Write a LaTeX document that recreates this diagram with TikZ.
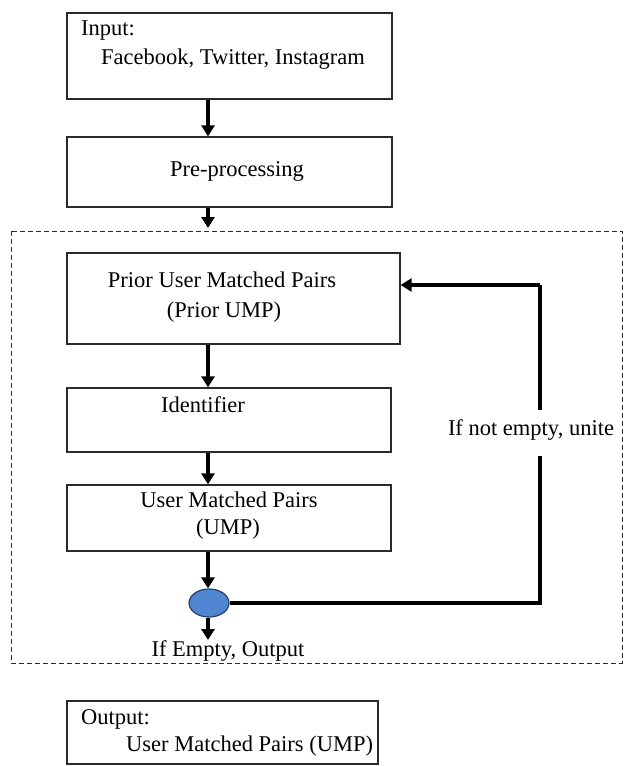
\documentclass[tikz,border=0pt]{standalone}
\usepackage{fontspec}
\setmainfont{Liberation Serif}
\usetikzlibrary{arrows.meta,shapes.geometric}
\definecolor{bordc}{HTML}{2A2A2A}
\definecolor{circfill}{HTML}{4F86CF}
\definecolor{circline}{HTML}{24406A}
\tikzset{
  box/.style={draw=bordc, line width=1.3pt, fill=white, inner sep=0pt},
  txt/.style={font=\fontsize{22.5}{26}\selectfont, inner sep=0pt, text height=0.68em, text depth=0.2em},
  flow/.style={line width=3.8pt, -{Triangle[length=11pt,width=13pt]}},
  fb/.style={line width=3.8pt},
  dbox/.style={draw=bordc, line width=1pt, dash pattern=on 5pt off 3pt},
}
\begin{document}
\begin{tikzpicture}[x=1pt,y=-1pt]
\useasboundingbox (0,0) rectangle (627,766);
% dashed loop region
\draw[dbox] (11,231) rectangle (622,663);
% boxes
\node[box, minimum width=325pt, minimum height=86pt] (inp) at (229.5,56) {};
\node[txt, anchor=west] (inpA) at (81,33) {Input:};
\node[txt, anchor=west] (inpB) at (101,62) {Facebook, Twitter, Instagram};
\node[box, minimum width=325pt, minimum height=70pt] (pre) at (229.5,172) {};
\node[txt] (preT) at (237,174) {Pre-processing};
\node[box, minimum width=333pt, minimum height=91pt] (pri) at (233.5,298.5) {};
\node[txt] (priA) at (222,285) {Prior User Matched Pairs};
\node[txt] (priB) at (224,315) {(Prior UMP)};
\node[box, minimum width=324pt, minimum height=64pt] (idf) at (229,420) {};
\node[txt] (idfT) at (203,410) {Identifier};
\node[box, minimum width=324pt, minimum height=66pt] (ump) at (229,518) {};
\node[txt] (umpA) at (229,505) {User Matched Pairs};
\node[txt] (umpB) at (228,532) {(UMP)};
\node[ellipse, draw=circline, line width=1.2pt, fill=circfill, minimum width=40pt, minimum height=28pt, inner sep=0pt] (dec) at (209,603) {};
\node[txt] (empT) at (228,654) {If Empty, Output};
\node[box, minimum width=311pt, minimum height=63pt] (out) at (222.5,732.5) {};
\node[txt, anchor=west] (outA) at (81,722) {Output:};
\node[txt, anchor=west] (outB) at (126,749) {User Matched Pairs (UMP)};
% connectors
\coordinate (c1) at (208,99);
\coordinate (c2) at (208,207);
\coordinate (c3) at (208,228);
\coordinate (c4) at (208,640);
\coordinate (fbR) at (540,603);
\coordinate (fbT) at (540,285);
\draw[flow] (inp.south -| c1) -- (pre.north -| c1);
\draw[flow] (pre.south -| c2) -- (c3);
\draw[flow] (pri.south -| c1) -- (idf.north -| c1);
\draw[flow] (idf.south -| c1) -- (ump.north -| c1);
\draw[flow] (ump.south -| c1) -- (dec.north -| c1);
\draw[flow] (dec.south -| c1) -- (c4);
\draw[fb] (dec.east) -- (fbR) -- (fbT);
\draw[flow] (fbT) -- (pri.east |- fbT);
\node[txt, fill=white, inner sep=0pt, minimum height=46pt] (unT) at (531,433) {If not empty, unite};
\end{tikzpicture}
\end{document}
